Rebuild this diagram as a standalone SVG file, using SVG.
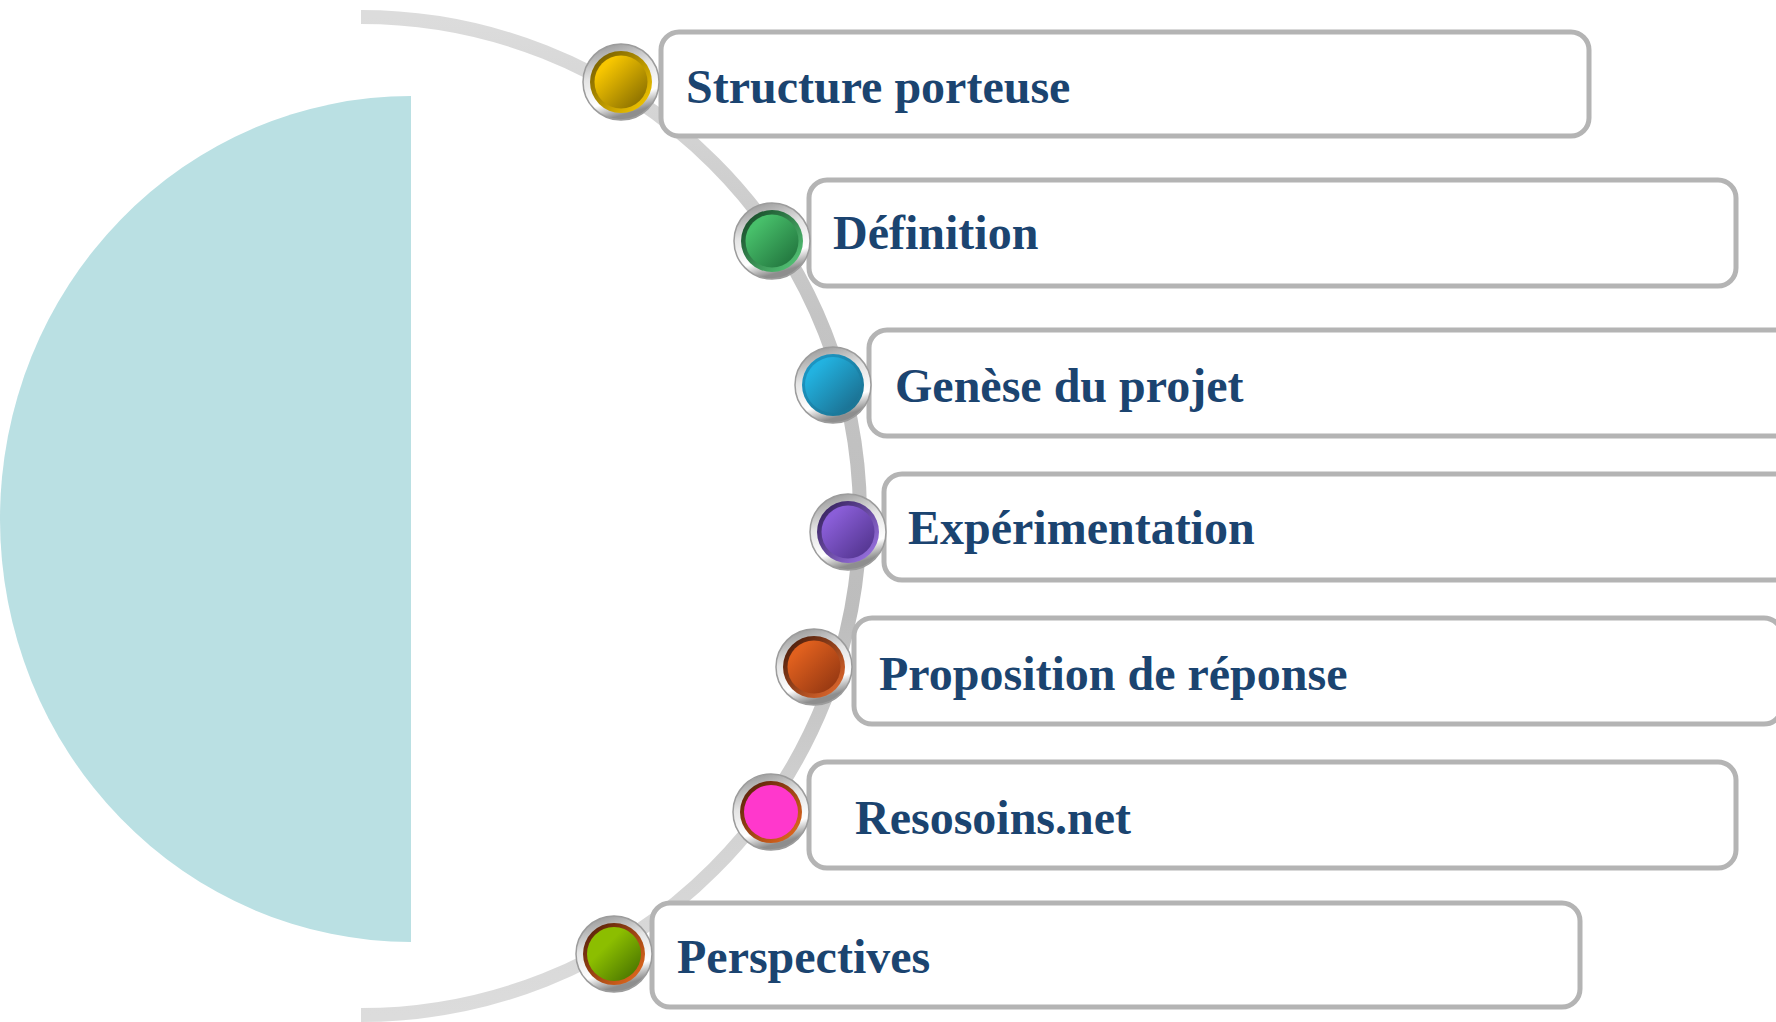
<svg xmlns="http://www.w3.org/2000/svg" width="1776" height="1022" viewBox="0 0 1776 1022">
<style>
.box{fill:#ffffff;stroke:#b4b4b4;stroke-width:5}
.lbl{font-family:"Liberation Serif","Times New Roman",serif;font-weight:bold;font-size:48px;fill:#1b4470}
.ring{fill:url(#silver);stroke:#9c9c9c;stroke-width:1.5}
</style>
<defs>
<linearGradient id="silver" x1="0" y1="0" x2="0.3" y2="1">
<stop offset="0" stop-color="#8a8a8a"/>
<stop offset="0.45" stop-color="#e4e4e4"/>
<stop offset="0.8" stop-color="#ffffff"/>
<stop offset="1" stop-color="#8e8e8e"/>
</linearGradient>
<linearGradient id="arcg" gradientUnits="userSpaceOnUse" x1="0" y1="17" x2="0" y2="1015">
<stop offset="0" stop-color="#dcdcdc"/>
<stop offset="0.3" stop-color="#c4c4c4"/>
<stop offset="0.6" stop-color="#bdbdbd"/>
<stop offset="0.8" stop-color="#d2d2d2"/>
<stop offset="1" stop-color="#dcdcdc"/>
</linearGradient>
<linearGradient id="y1" x1="0" y1="0" x2="1" y2="1"><stop offset="0" stop-color="#6a5400"/><stop offset="1" stop-color="#ffd000"/></linearGradient>
<linearGradient id="y2" x1="0" y1="0" x2="1" y2="1"><stop offset="0.2" stop-color="#f7c600"/><stop offset="1" stop-color="#7a6300"/></linearGradient>
<linearGradient id="g1" x1="0" y1="0" x2="1" y2="1"><stop offset="0" stop-color="#123f22"/><stop offset="1" stop-color="#5ad27e"/></linearGradient>
<linearGradient id="g2" x1="0" y1="0" x2="1" y2="1"><stop offset="0.2" stop-color="#47bf6a"/><stop offset="1" stop-color="#1d6b38"/></linearGradient>
<linearGradient id="b1" x1="0" y1="0" x2="1" y2="1"><stop offset="0" stop-color="#1c9ccc"/><stop offset="1" stop-color="#1a6f8c"/></linearGradient>
<linearGradient id="b2" x1="0" y1="0" x2="1" y2="1"><stop offset="0.2" stop-color="#22b2e0"/><stop offset="1" stop-color="#1a6584"/></linearGradient>
<linearGradient id="p1" x1="0" y1="0" x2="1" y2="1"><stop offset="0" stop-color="#2c1a50"/><stop offset="1" stop-color="#a47af0"/></linearGradient>
<linearGradient id="p2" x1="0" y1="0" x2="1" y2="1"><stop offset="0.2" stop-color="#8a5ed8"/><stop offset="1" stop-color="#4b2f85"/></linearGradient>
<linearGradient id="o1" x1="0" y1="0" x2="1" y2="1"><stop offset="0" stop-color="#3a1508"/><stop offset="1" stop-color="#f07030"/></linearGradient>
<linearGradient id="o2" x1="0" y1="0" x2="1" y2="1"><stop offset="0.2" stop-color="#e0601e"/><stop offset="1" stop-color="#8a3210"/></linearGradient>
<linearGradient id="k1" x1="0" y1="0" x2="1" y2="1"><stop offset="0" stop-color="#4a1a08"/><stop offset="1" stop-color="#f07020"/></linearGradient>
<linearGradient id="k2" x1="0" y1="0" x2="1" y2="1"><stop offset="0" stop-color="#ff38cc"/><stop offset="1" stop-color="#ff38cc"/></linearGradient>
<linearGradient id="l1" x1="0" y1="0" x2="1" y2="1"><stop offset="0" stop-color="#4a1a08"/><stop offset="1" stop-color="#f07020"/></linearGradient>
<linearGradient id="l2" x1="0" y1="0" x2="1" y2="1"><stop offset="0.35" stop-color="#8cbe00"/><stop offset="1" stop-color="#3f6a00"/></linearGradient>
</defs>

<g id="halfdisc">
<path d="M 411 96 A 411 423 0 0 0 411 942 Z" fill="#bae0e3"/>
</g>

<g id="connectors">
<path d="M 361 17 A 499 499 0 0 1 361 1015" fill="none" stroke="url(#arcg)" stroke-width="14"/>
</g>

<g id="node1">
<rect class="box" x="661" y="32" width="928" height="104" rx="18"/>
<text class="lbl" x="686" y="103">Structure porteuse</text>
<circle class="ring" cx="621" cy="82" r="38"/>
<circle cx="621" cy="82" r="31" fill="url(#y1)"/>
<circle cx="621" cy="82" r="26.5" fill="url(#y2)"/>
</g>

<g id="node2">
<rect class="box" x="809" y="180" width="927" height="106" rx="18"/>
<text class="lbl" x="833" y="249">Définition</text>
<circle class="ring" cx="772" cy="241" r="38"/>
<circle cx="772" cy="241" r="31" fill="url(#g1)"/>
<circle cx="772" cy="241" r="26.5" fill="url(#g2)"/>
</g>

<g id="node3">
<rect class="box" x="869" y="330" width="928" height="106" rx="18"/>
<text class="lbl" x="895" y="402">Genèse du projet</text>
<circle class="ring" cx="833" cy="385" r="38"/>
<circle cx="833" cy="385" r="31" fill="url(#b1)"/>
<circle cx="833" cy="385" r="28" fill="url(#b2)"/>
</g>

<g id="node4">
<rect class="box" x="884" y="474" width="928" height="106" rx="18"/>
<text class="lbl" x="908" y="544">Expérimentation</text>
<circle class="ring" cx="848" cy="532" r="38"/>
<circle cx="848" cy="532" r="31" fill="url(#p1)"/>
<circle cx="848" cy="532" r="26.5" fill="url(#p2)"/>
</g>

<g id="node5">
<rect class="box" x="854" y="618" width="928" height="106" rx="18"/>
<text class="lbl" x="879" y="690">Proposition de réponse</text>
<circle class="ring" cx="814" cy="667" r="38"/>
<circle cx="814" cy="667" r="31" fill="url(#o1)"/>
<circle cx="814" cy="667" r="26.5" fill="url(#o2)"/>
</g>

<g id="node6">
<rect class="box" x="809" y="762" width="927" height="106" rx="18"/>
<text class="lbl" x="855" y="834">Resosoins.net</text>
<circle class="ring" cx="771" cy="812" r="38"/>
<circle cx="771" cy="812" r="31" fill="url(#k1)"/>
<circle cx="771" cy="812" r="27" fill="url(#k2)"/>
</g>

<g id="node7">
<rect class="box" x="652" y="903" width="928" height="104" rx="18"/>
<text class="lbl" x="677" y="973">Perspectives</text>
<circle class="ring" cx="614" cy="954" r="38"/>
<circle cx="614" cy="954" r="31" fill="url(#l1)"/>
<circle cx="614" cy="954" r="27" fill="url(#l2)"/>
</g>
</svg>
